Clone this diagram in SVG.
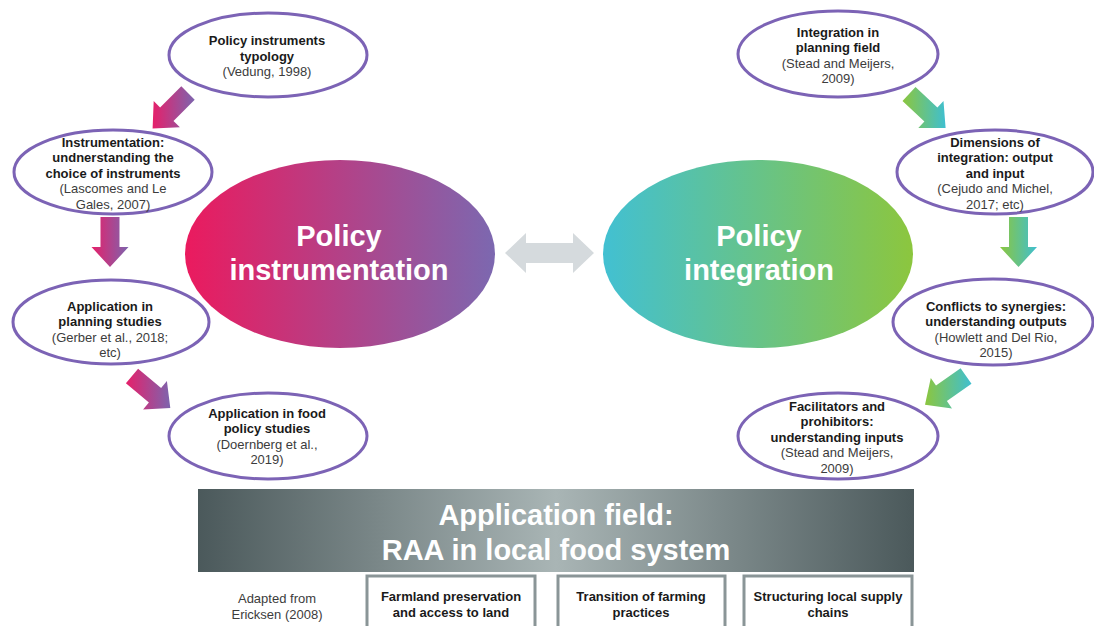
<svg xmlns="http://www.w3.org/2000/svg" width="1094" height="626" viewBox="0 0 1094 626">
<defs>
<linearGradient id="gPink" x1="0" y1="0" x2="1" y2="0"><stop offset="0" stop-color="#eb1a5e"/><stop offset="1" stop-color="#7c68b0"/></linearGradient>
<linearGradient id="gGreen" x1="0" y1="0" x2="1" y2="0"><stop offset="0" stop-color="#42c0d2"/><stop offset="1" stop-color="#8cc63e"/></linearGradient>
<linearGradient id="aPink" x1="0" y1="0" x2="1" y2="0"><stop offset="0" stop-color="#e6206a"/><stop offset="1" stop-color="#7d64ae"/></linearGradient>
<linearGradient id="aGreen" x1="0" y1="0" x2="1" y2="0"><stop offset="0" stop-color="#8cc63e"/><stop offset="1" stop-color="#3fbfd0"/></linearGradient>
<linearGradient id="gBanner" x1="0" y1="0" x2="1" y2="0"><stop offset="0" stop-color="#4b595b"/><stop offset="0.5" stop-color="#a9b5b5"/><stop offset="1" stop-color="#4b595b"/></linearGradient>
<style>
.node{fill:#ffffff;stroke:#7c63b5;stroke-width:3}
.b{font-family:"Liberation Sans",Arial,sans-serif;font-weight:bold;font-size:13px;fill:#1a1a1a;text-anchor:middle}
.r{font-family:"Liberation Sans",Arial,sans-serif;font-size:13px;fill:#3c3c3c;text-anchor:middle}
.big{font-family:"Liberation Sans",Arial,sans-serif;font-weight:bold;font-size:29px;fill:#ffffff;text-anchor:middle}
.box{fill:#ffffff;stroke:#8a9597;stroke-width:3}
</style>
</defs>
<rect width="1094" height="626" fill="#ffffff"/>

<g id="policy-instrumentation">
<ellipse cx="340" cy="254" rx="155" ry="94" fill="url(#gPink)"/>
<text class="big" x="339" y="246">Policy</text>
<text class="big" x="339" y="280">instrumentation</text>
</g>
<g id="policy-integration">
<ellipse cx="758" cy="254" rx="155" ry="94" fill="url(#gGreen)"/>
<text class="big" x="759" y="246">Policy</text>
<text class="big" x="759" y="280">integration</text>
</g>

<g id="connectors">
<path d="M505,253 L526,233 V243 H573 V233 L594,253 L573,273 V263 H526 V273 Z" fill="#d5dadd"/>
<path d="M181.3,86.3 L194.7,99.7 L173.5,120.9 L179.9,127.3 L152.6,128.4 L153.7,101.1 L160.1,107.5 Z" fill="url(#aPink)"/>
<path d="M100.5,217 H119.5 V247 H128.5 L110,267 L91.5,247 H100.5 Z" fill="url(#aPink)"/>
<path d="M125.9,383.3 L138.1,368.7 L161.1,388.0 L166.9,381.1 L170.3,408.1 L143.1,409.5 L148.9,402.6 Z" fill="url(#aPink)"/>
<path d="M902.5,100.9 L915.5,87.1 L937.4,107.6 L943.5,101.0 L945.6,128.1 L918.3,128.0 L924.4,121.4 Z" fill="url(#aGreen)"/>
<path d="M1009,217 H1028 V247 H1037 L1018.5,267 L1000,247 H1009 Z" fill="url(#aGreen)"/>
<path d="M960.6,368.2 L971.5,383.8 L946.9,401.0 L952.0,408.4 L925.0,404.7 L930.8,378.1 L936.0,385.4 Z" fill="url(#aGreen)"/>
</g>

<g id="n-typology">
<ellipse class="node" cx="268" cy="55" rx="99" ry="42"/>
<text class="b" x="267" y="45">Policy instruments</text>
<text class="b" x="267" y="60.5">typology</text>
<text class="r" x="267" y="76">(Vedung, 1998)</text>
</g>
<g id="n-instrumentation">
<ellipse class="node" cx="113" cy="172" rx="99" ry="42"/>
<text class="b" x="113" y="146.5">Instrumentation:</text>
<text class="b" x="113" y="162">undnerstanding the</text>
<text class="b" x="113" y="177.5">choice of instruments</text>
<text class="r" x="113" y="193">(Lascomes and Le</text>
<text class="r" x="113" y="208.5">Gales, 2007)</text>
</g>
<g id="n-planning">
<ellipse class="node" cx="111" cy="322" rx="98" ry="42"/>
<text class="b" x="110" y="310.5">Application in</text>
<text class="b" x="110" y="326">planning studies</text>
<text class="r" x="110" y="341.5">(Gerber et al., 2018;</text>
<text class="r" x="110" y="357">etc)</text>
</g>
<g id="n-food">
<ellipse class="node" cx="268" cy="436" rx="99" ry="43"/>
<text class="b" x="267" y="417.5">Application in food</text>
<text class="b" x="267" y="433">policy studies</text>
<text class="r" x="267" y="448.5">(Doernberg et al.,</text>
<text class="r" x="267" y="464">2019)</text>
</g>
<g id="n-integration-planning">
<ellipse class="node" cx="838" cy="54" rx="100" ry="43"/>
<text class="b" x="838" y="36.5">Integration in</text>
<text class="b" x="838" y="52">planning field</text>
<text class="r" x="838" y="67.5">(Stead and Meijers,</text>
<text class="r" x="838" y="83">2009)</text>
</g>
<g id="n-dimensions">
<ellipse class="node" cx="995" cy="172" rx="98" ry="42"/>
<text class="b" x="995" y="146.5">Dimensions of</text>
<text class="b" x="995" y="162">integration: output</text>
<text class="b" x="995" y="177.5">and input</text>
<text class="r" x="995" y="193">(Cejudo and Michel,</text>
<text class="r" x="995" y="208.5">2017; etc)</text>
</g>
<g id="n-conflicts">
<ellipse class="node" cx="993" cy="322" rx="100" ry="43"/>
<text class="b" x="996" y="310.5">Conflicts to synergies:</text>
<text class="b" x="996" y="326">understanding outputs</text>
<text class="r" x="996" y="341.5">(Howlett and Del Rio,</text>
<text class="r" x="996" y="357">2015)</text>
</g>
<g id="n-facilitators">
<ellipse class="node" cx="838" cy="436" rx="100" ry="43"/>
<text class="b" x="837" y="410.5">Facilitators and</text>
<text class="b" x="837" y="426">prohibitors:</text>
<text class="b" x="837" y="441.5">understanding inputs</text>
<text class="r" x="837" y="457">(Stead and Meijers,</text>
<text class="r" x="837" y="472.5">2009)</text>
</g>

<g id="banner">
<rect x="198" y="489" width="716" height="83" fill="url(#gBanner)"/>
<text class="big" x="556" y="524.5">Application field:</text>
<text class="big" x="556" y="559.5">RAA in local food system</text>
</g>

<g id="source-note">
<text class="r" x="277" y="602.5">Adapted from</text>
<text class="r" x="277" y="618.5">Ericksen (2008)</text>
</g>
<g id="box-farmland">
<rect class="box" x="367" y="576" width="168" height="60"/>
<text class="b" x="451" y="600.5">Farmland preservation</text>
<text class="b" x="451" y="616.5">and access to land</text>
</g>
<g id="box-transition">
<rect class="box" x="558" y="576" width="167" height="60"/>
<text class="b" x="641" y="600.5">Transition of farming</text>
<text class="b" x="641" y="616.5">practices</text>
</g>
<g id="box-supply">
<rect class="box" x="744" y="576" width="168" height="60"/>
<text class="b" x="828" y="600.5">Structuring local supply</text>
<text class="b" x="828" y="616.5">chains</text>
</g>
</svg>
